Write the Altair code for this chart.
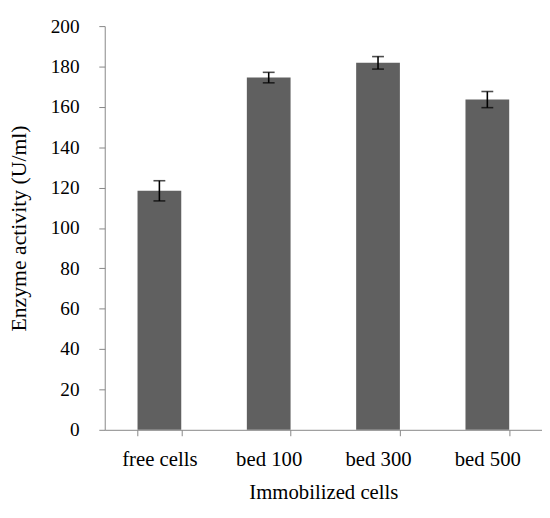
import altair as alt
import pandas as pd

categories = ["free cells", "bed 100", "bed 300", "bed 500"]
activity = [118.4, 174.5, 181.8, 163.6]
error = [5.0, 2.6, 3.1, 4.0]

df = pd.DataFrame({
    "cat": categories,
    "val": activity,
    "lo": [v - e for v, e in zip(activity, error)],
    "hi": [v + e for v, e in zip(activity, error)],
})

FONT = "Liberation Serif"
axis_style = dict(labelFont=FONT, titleFont=FONT,
                  labelColor="black", titleColor="black", titleFontWeight="normal",
                  domainColor="#868686", tickColor="#868686", grid=False)

x_axis = alt.Axis(title="Immobilized cells", tickBand="extent", labelAngle=0,
                  labelFontSize=21, titleFontSize=21,
                  labelPadding=13, titlePadding=13, tickSize=6, **axis_style)
x_scale = alt.Scale(paddingInner=0.6, paddingOuter=0.3)
y_axis = alt.Axis(title="Enzyme activity (U/ml)", values=list(range(0, 201, 20)),
                  labelFontSize=19.5, titleFontSize=22,
                  tickSize=6, labelPadding=20, titlePadding=20, **axis_style)
y_scale = alt.Scale(domain=[0, 200])


def X():
    return alt.X("cat:N", sort=categories, scale=x_scale, axis=x_axis)


def Y(field):
    return alt.Y(field, type="quantitative", scale=y_scale, axis=y_axis)


base = alt.Chart(df)
bars = base.mark_bar(color="#606060").encode(x=X(), y=Y("val"))
rule = base.mark_rule(color="black", strokeWidth=1.6).encode(x=X(), y=Y("lo"), y2="hi")
cap_lo = base.mark_tick(color="black", thickness=1.6, size=12).encode(x=X(), y=Y("lo"))
cap_hi = base.mark_tick(color="black", thickness=1.6, size=12).encode(x=X(), y=Y("hi"))

chart = alt.layer(bars, rule, cap_lo, cap_hi).properties(
    width=443, height=409,
    autosize=alt.AutoSizeParams(type="none"),
    padding={"left": 98, "top": 15, "right": 0, "bottom": 86},
).configure_view(stroke=None)

chart.save("out.html", embed_options={"renderer": "svg", "actions": False})
